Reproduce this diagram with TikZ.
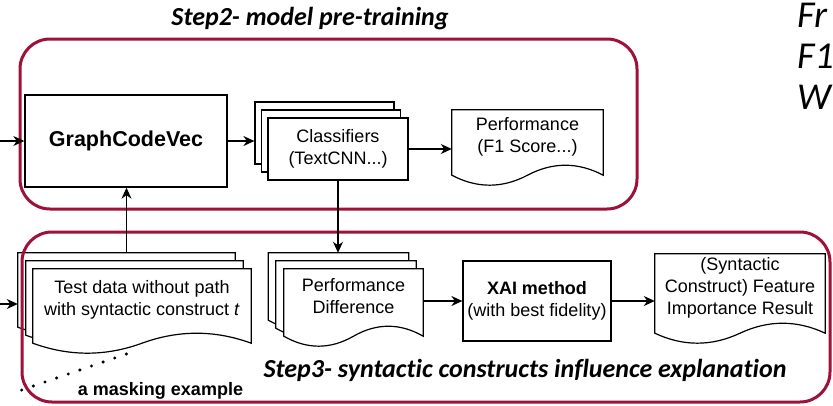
\documentclass[tikz,border=0pt]{standalone}
\usepackage{fontspec}
\setmainfont{Liberation Sans}
\newfontfamily\titlefont[Ligatures=NoCommon]{Carlito}
\usetikzlibrary{arrows.meta,calc}
\definecolor{stepred}{RGB}{158,18,58}
\pgfdeclarelayer{sheets}
\pgfsetlayers{sheets,main}

% outline of a "document" sheet: straight top and sides, wavy bottom
\newcommand\docoutline[1]{%
  \begin{pgfonlayer}{sheets}
    \draw[docline] let \p1=(#1.north west), \p2=([yshift=-12pt]#1.south east) in
      (\x1,\y1) -- (\x2,\y1) -- (\x2,\y2)
      .. controls ({\x2-(\x2-\x1)/6},{\y2+13.3pt}) and ({\x2-(\x2-\x1)/3},{\y2+13.3pt})
      .. ({(\x1+\x2)/2},\y2)
      .. controls ({\x1+(\x2-\x1)/3},{\y2-13.3pt}) and ({\x1+(\x2-\x1)/6},{\y2-13.3pt})
      .. (\x1,\y2) -- cycle;
  \end{pgfonlayer}}

\tikzset{
  docline/.style={draw=black, fill=white, line width=1.2pt},
  sheet/.style={inner sep=0pt, align=center, font=\fontsize{18}{22}\selectfont},
  box/.style={draw=black, fill=white, line width=1.2pt, inner sep=0pt, align=center,
    font=\fontsize{18}{22}\selectfont},
  stepframe/.style={draw=stepred, line width=3pt, rounded corners=30pt, inner sep=0pt},
  flow/.style={line width=1.2pt, -{Stealth[length=11pt,width=10pt,inset=3.5pt]}},
  steptitle/.style={inner sep=0pt, anchor=base, font=\titlefont\bfseries\itshape\fontsize{26}{30}\selectfont},
  sidetext/.style={inner sep=0pt, anchor=base west, font=\titlefont\itshape\fontsize{38}{44}\selectfont},
  dots/.style={line width=3.4pt, line cap=round, dash pattern=on 0pt off 12.3pt}
}

\begin{document}
\begin{tikzpicture}[x=1pt, y=-1pt]
\useasboundingbox (0,0) rectangle (833,405);

% ---- Step 2: model pre-training ----
\node[box, line width=1.4pt, minimum width=202, minimum height=92,
      font=\bfseries\fontsize{21.5}{26}\selectfont] (gcv) at (126,141) {GraphCodeVec};

\node[box, minimum width=139, minimum height=62] (cls3) at (324.5,133) {};
\node[box, minimum width=139, minimum height=62] (cls2) at (331,141) {};
\node[box, minimum width=140, minimum height=62] (cls) at (338,149) {Classifiers\\(TextCNN...)};

\node[sheet, minimum width=151, minimum height=53] (perf) at (527.5,136.5) {Performance\\(F1 Score...)};
\docoutline{perf}

% ---- Step 3: syntactic constructs influence explanation ----
\node[sheet, minimum width=217, minimum height=62] (td3) at (126.5,284) {};
\node[sheet, minimum width=217, minimum height=62] (td2) at (134.5,292) {};
\node[sheet, minimum width=218, minimum height=62] (td) at (142,300)
  {Test data without path\\with syntactic construct \textit{t}};
\docoutline{td3}\docoutline{td2}\docoutline{td}

\node[sheet, minimum width=140, minimum height=55] (pd3) at (338.5,280.5) {};
\node[sheet, minimum width=140, minimum height=55] (pd2) at (346,288.5) {};
\node[sheet, minimum width=139, minimum height=55] (pd) at (353.5,296.5) {Performance\\Difference};
\docoutline{pd3}\docoutline{pd2}\docoutline{pd}

\node[box, minimum width=148, minimum height=80] (xai) at (537,301)
  {\textbf{XAI method}\\(with best fidelity)};

\node[sheet, minimum width=170, minimum height=67] (res) at (740,287.5)
  {(Syntactic\\Construct) Feature\\Importance Result};
\docoutline{res}

% ---- frames and titles ----
\node[stepframe, minimum width=617, minimum height=170] (step2) at (328.5,124) {};
\node[stepframe, minimum width=808, minimum height=170] (step3) at (426,317) {};

\node[steptitle] (t2) at (310,25) {Step2- model pre-training};
\node[steptitle] (t3) at (525,377) {Step3- syntactic constructs influence explanation};
\node[inner sep=0pt, anchor=base, font=\bfseries\fontsize{18}{22}\selectfont] (mask) at (160.5,395)
  {a masking example};

\node[sidetext] (s1) at (797,27) {Fr};
\node[sidetext] (s2) at (797,68) {F1};
\node[sidetext] (s3) at (797,109) {W};

% ---- connectors ----
\coordinate (in1) at (0,141);
\coordinate (in2) at (0,304);
\draw[flow] (in1) -- (gcv.west);
\draw[flow] (in2) -- (in2 -| td3.west);
\draw[flow] (gcv.east) -- (gcv.east -| cls3.west);
\draw[flow] (cls.east) -- (cls.east -| perf.west);
\draw[flow] (td3.north) -- (td3.north |- gcv.south);
\draw[flow] (cls.south) -- (cls.south |- pd3.north);
\draw[flow] (xai.west -| pd.east) -- (xai.west);
\draw[flow] (xai.east) -- (xai.east -| res.west);

\coordinate (m1) at (21.7,390);
\coordinate (m2) at (138,350);
\draw[dots] (m1) -- (m2);
\end{tikzpicture}
\end{document}
